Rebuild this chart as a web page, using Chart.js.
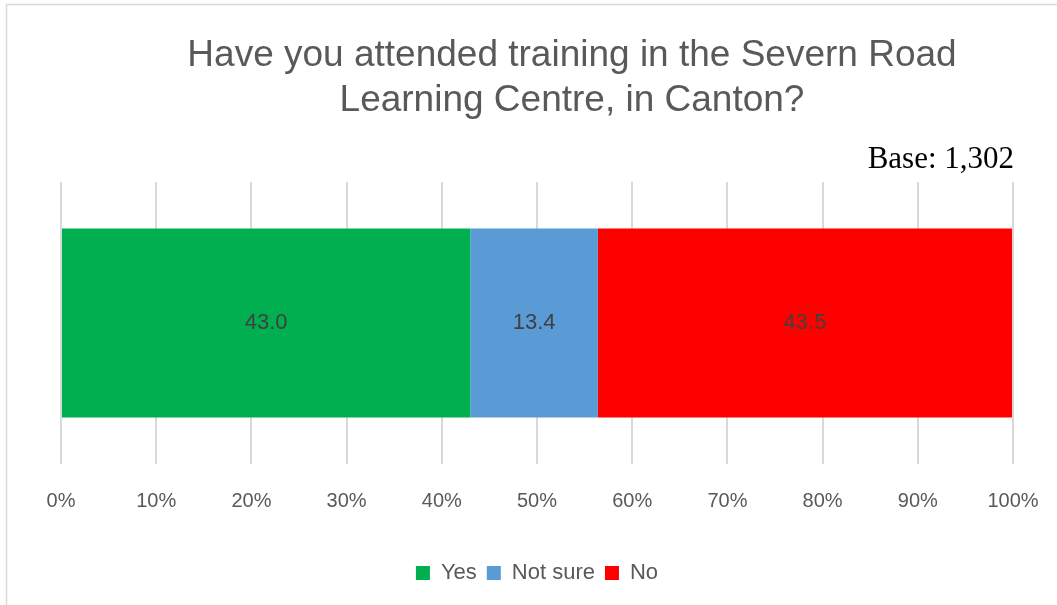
<!DOCTYPE html>
<html>
<head>
<meta charset="utf-8">
<script src="https://cdn.jsdelivr.net/npm/chart.js@4"></script>
<style>
  body { margin: 0; background: #fff; }
  #wrap { width: 1057px; height: 605px; position: relative; }
</style>
</head>
<body>
<div id="wrap"><canvas id="myChart"></canvas></div>
<script>
// chart data
const categories = [""];
const seriesNames = ["Yes", "Not sure", "No"];
const yesValues = [43.0];
const notSureValues = [13.4];
const noValues = [43.5];
const seriesColors = ["#00B050", "#5B9BD5", "#FF0000"];
const titleLines = ["Have you attended training in the Severn Road", "Learning Centre, in Canton?"];
const baseText = "Base: 1,302";

var ctx = document.getElementById("myChart").getContext("2d");

// border, title and base note drawn on the canvas
const decorPlugin = {
  id: "decor",
  beforeDraw(chart) {
    const c = chart.ctx;
    c.save();
    c.fillStyle = "#fff";
    c.fillRect(0, 0, chart.width, chart.height);
    c.strokeStyle = "#d9d9d9";
    c.lineWidth = 1.5;
    c.strokeRect(6.5, 4.5, 2000, 2000);
    c.restore();
  },
  afterDraw(chart) {
    const c = chart.ctx;
    c.save();
    c.fillStyle = "#595959";
    c.font = "37px 'Liberation Sans', Arial, sans-serif";
    c.textAlign = "center";
    c.textBaseline = "alphabetic";
    c.fillText(titleLines[0], 572, 66);
    c.fillText(titleLines[1], 572, 111);
    c.fillStyle = "#000";
    c.font = "31px 'Liberation Serif', 'Times New Roman', serif";
    c.textAlign = "right";
    c.fillText(baseText, chart.chartArea.right + 1, 168);
    c.restore();
  }
};

// value labels inside each segment
const labelPlugin = {
  id: "segLabels",
  afterDatasetsDraw(chart) {
    const c = chart.ctx;
    c.save();
    c.fillStyle = "#404040";
    c.font = "22px 'Liberation Sans', Arial, sans-serif";
    c.textAlign = "center";
    c.textBaseline = "middle";
    chart.data.datasets.forEach(function (ds, i) {
      const meta = chart.getDatasetMeta(i);
      meta.data.forEach(function (el, j) {
        const x = (el.x + el.base) / 2;
        c.fillText(ds.data[j].toFixed(1), x, el.y);
      });
    });
    c.restore();
  }
};

var myChart = new Chart(ctx, {
  type: "bar",
  data: {
    labels: categories,
    datasets: [
      { label: seriesNames[0], data: yesValues, backgroundColor: seriesColors[0] },
      { label: seriesNames[1], data: notSureValues, backgroundColor: seriesColors[1] },
      { label: seriesNames[2], data: noValues, backgroundColor: seriesColors[2] },
    ],
  },
  options: {
    indexAxis: "y",
    responsive: true,
    maintainAspectRatio: false,
    animation: false,
    layout: { padding: { left: 61, right: 44, top: 182, bottom: 11 } },
    datasets: {
      bar: { categoryPercentage: 1, barPercentage: 0.67, borderWidth: 0 },
    },
    scales: {
      x: {
        stacked: true,
        min: 0,
        max: 100,
        border: { display: false },
        grid: { color: "#d9d9d9", lineWidth: 2, drawTicks: false },
        ticks: {
          stepSize: 10,
          padding: 25,
          color: "#595959",
          font: { family: "'Liberation Sans', Arial, sans-serif", size: 20 },
          callback: function (v) { return v + "%"; },
        },
        afterFit: function (scale) {
          scale.height = 88;
          // let the layout padding alone decide the plot edges
          scale.paddingLeft = 0;
          scale.paddingRight = 0;
        },
      },
      y: {
        stacked: true,
        display: false,
      },
    },
    plugins: {
      legend: {
        position: "bottom",
        labels: {
          boxWidth: 14,
          boxHeight: 14,
          padding: 10,
          color: "#595959",
          font: { family: "'Liberation Sans', Arial, sans-serif", size: 22 },
        },
      },
      tooltip: { enabled: false },
    },
  },
  plugins: [decorPlugin, labelPlugin],
});
</script>
</body>
</html>
